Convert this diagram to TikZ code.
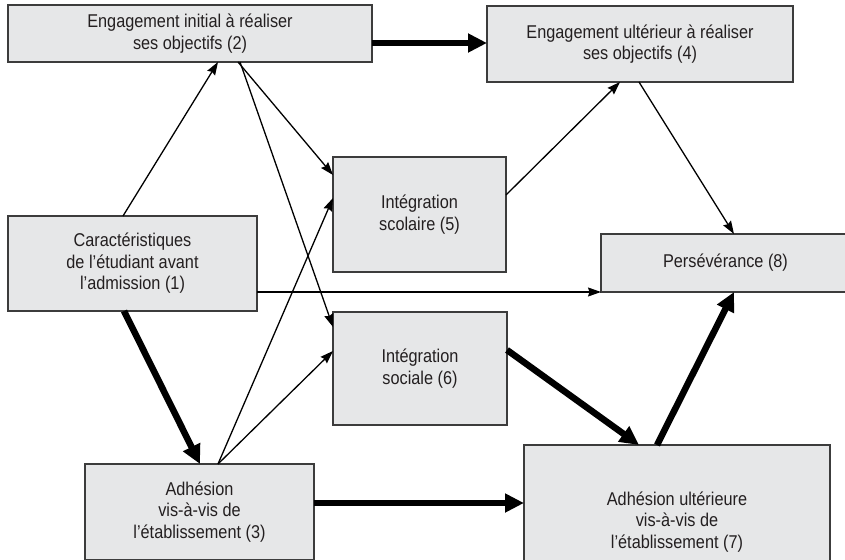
\documentclass[tikz,border=0pt]{standalone}
\usepackage{fontspec}
\setmainfont{Liberation Sans}[FakeStretch=0.88]
\usetikzlibrary{arrows.meta}
\definecolor{boxfill}{HTML}{E6E7E8}
\definecolor{boxline}{HTML}{3C3C3C}
\definecolor{txt}{HTML}{231F20}
\begin{document}
\begin{tikzpicture}[x=1pt,y=-1pt,
  box/.style={draw=boxline,fill=boxfill,line width=1.3pt,inner sep=0pt,outer sep=0pt,
    align=center,text=txt,font=\fontsize{18.5}{21.5}\selectfont},
  thinarrow/.style={line width=1.3pt,-{Stealth[length=13pt,width=9pt,inset=1.5pt]}},
  thickarrow/.style={line width=6.5pt,-{Triangle[length=19pt,width=18pt]}}]
\clip (0,0) rectangle (845,559);
\fill[white] (0,0) rectangle (845,559);
\node[box,minimum width=364pt,minimum height=57pt] (n2) at (190,33.5) {Engagement initial à réaliser\\ses objectifs (2)};
\node[box,minimum width=306pt,minimum height=76pt] (n4) at (640,44) {Engagement ultérieur à réaliser\\ses objectifs (4)};
\node[box,minimum width=173pt,minimum height=115pt] (n5) at (419.5,214.5) {Intégration\\scolaire (5)};
\node[box,minimum width=249pt,minimum height=95pt] (n1) at (132.5,263.5) {Caractéristiques\\de l’étudiant avant\\l’admission (1)};
\node[box,minimum width=174pt,minimum height=113pt] (n6) at (420,368.5) {Intégration\\sociale (6)};
\node[box,minimum width=249pt,minimum height=58pt] (n8) at (725.5,263) {Persévérance (8)};
\node[box,minimum width=229pt,minimum height=96pt] (n3) at (199.5,512) {Adhésion\\vis-à-vis de\\l’établissement (3)};
\node[box,minimum width=306pt,minimum height=154pt] (n7) at (677,522) {Adhésion ultérieure\\vis-à-vis de\\l’établissement (7)};
% thin connectors
\draw[thinarrow] ([xshift=115pt]n1.north west) -- ([xshift=210pt]n2.south west);
\draw[thinarrow] ([xshift=230pt]n2.south west) -- ([yshift=-18pt]n5.north west);
\draw[thinarrow] ([xshift=232pt]n2.south west) -- ([yshift=-15pt]n6.north west);
\draw[thinarrow] ([xshift=133pt]n3.north west) -- ([yshift=-41pt]n5.north west);
\draw[thinarrow] ([xshift=133pt]n3.north west) -- ([yshift=-39pt]n6.north west);
\draw[thinarrow] ([yshift=19pt]n1.south east) -- (n8.south west);
\draw[thinarrow] ([yshift=-38pt]n5.north east) -- ([xshift=133pt]n4.south west);
\draw[thinarrow] ([xshift=152pt]n4.south west) -- ([xshift=133pt]n8.north west);
% thick connectors
\draw[thickarrow] ([yshift=19pt]n2.south east) coordinate (s24) -- (s24 -| n4.west);
\draw[thickarrow] ([xshift=116pt]n1.south west) -- ([xshift=115pt]n3.north west);
\draw[thickarrow] ([yshift=-39pt]n3.north east) coordinate (s37) -- (s37 -| n7.west);
\draw[thickarrow] ([yshift=-38pt]n6.north east) -- ([xshift=115pt]n7.north west);
\draw[thickarrow] ([xshift=133pt]n7.north west) -- ([xshift=133pt]n8.south west);
\end{tikzpicture}
\end{document}
